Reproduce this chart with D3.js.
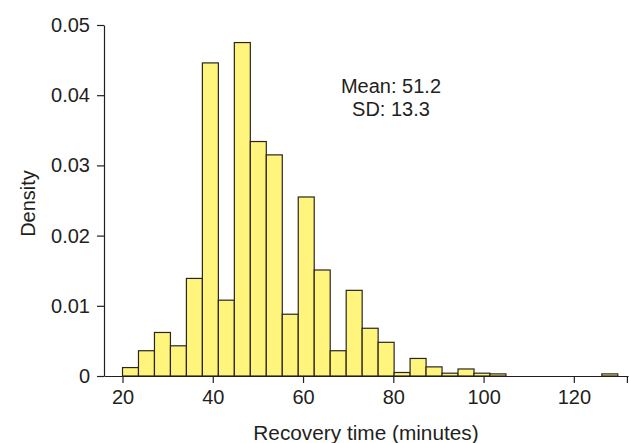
<!DOCTYPE html>
<html>
<head>
<meta charset="utf-8">
<script src="https://cdn.jsdelivr.net/npm/d3@7"></script>
<style>
  body { margin: 0; background: #fff; }
  svg text { font-family: "Liberation Sans", Arial, sans-serif; fill: #231f20; }
  .axis path, .axis line { stroke: #231f20; stroke-width: 1.2; }
</style>
</head>
<body>
<svg id="chart" width="629" height="443"></svg>
<script>
// lower edge of each histogram bin (minutes)
var binStarts = [20.00, 23.54, 27.08, 30.62, 34.16, 37.70, 41.24, 44.78, 48.32, 51.86,
                 55.40, 58.94, 62.48, 66.02, 69.56, 73.10, 76.64, 80.18, 83.72, 87.26,
                 90.80, 94.34, 97.88, 101.42, 104.96, 108.50, 112.04, 115.58, 119.12, 122.66,
                 126.20];
var binEnd = 129.74;
// density of each bin
var density = [0.0012, 0.0036, 0.0062, 0.0043, 0.0139, 0.0446, 0.0108, 0.0475, 0.0334, 0.0315,
               0.0088, 0.0255, 0.0151, 0.0036, 0.0122, 0.0068, 0.0048, 0.0005, 0.0025, 0.0013,
               0.0004, 0.0010, 0.0004, 0.0003, 0, 0, 0, 0, 0, 0,
               0.0003];
var xTicks = [20, 40, 60, 80, 100, 120];
var yTicks = [0, 0.01, 0.02, 0.03, 0.04, 0.05];
var statsLines = ["Mean: 51.2", "SD: 13.3"];
var xTitle = "Recovery time (minutes)";
var yTitle = "Density";

var bins = binStarts.map(function(s, i){
  return { x0: s, x1: (i < binStarts.length - 1) ? binStarts[i+1] : binEnd, y: density[i] };
});

var svg = d3.select("#chart");

var x = d3.scaleLinear().domain([15.9, 132]).range([104, 628]);
var y = d3.scaleLinear().domain([0, 0.05]).range([376, 25]);

// bars
svg.append("g").selectAll("rect")
  .data(bins)
  .enter().append("rect")
    .attr("x", function(d){ return x(d.x0); })
    .attr("y", function(d){ return y(d.y); })
    .attr("width", function(d){ return x(d.x1) - x(d.x0); })
    .attr("height", function(d){ return y(0) - y(d.y); })
    .style("fill", "#fff57c")
    .style("stroke", "#2a2520")
    .style("stroke-width", 1.2);

// x axis
var xAxis = d3.axisBottom(x).tickValues(xTicks).tickSize(7).tickSizeOuter(0).tickPadding(7);
var gx = svg.append("g").attr("class", "axis")
  .attr("transform", "translate(0," + y(0) + ")")
  .call(xAxis);
gx.selectAll("text").style("font-size", "20px");
gx.append("line")
  .attr("x1", x(132) - 0.6).attr("x2", x(132) - 0.6)
  .attr("y1", 0).attr("y2", 7);

// y axis
var yAxis = d3.axisLeft(y).tickValues(yTicks).tickSize(7).tickSizeOuter(0).tickPadding(7)
  .tickFormat(function(d){ return d === 0 ? "0" : d3.format(".2f")(d); });
var gy = svg.append("g").attr("class", "axis")
  .attr("transform", "translate(" + x(15.9) + ",0)")
  .call(yAxis);
gy.selectAll("text").style("font-size", "20px");

// axis titles
svg.append("text")
  .attr("x", (x.range()[0] + x.range()[1]) / 2)
  .attr("y", 440)
  .attr("text-anchor", "middle")
  .style("font-size", "20.8px")
  .text(xTitle);

svg.append("text")
  .attr("transform", "translate(35," + ((y.range()[0] + y.range()[1]) / 2 + 3) + ") rotate(-90)")
  .attr("text-anchor", "middle")
  .style("font-size", "20px")
  .text(yTitle);

// summary stats
svg.append("g").selectAll("text")
  .data(statsLines)
  .enter().append("text")
    .attr("x", 391)
    .attr("y", function(d, i){ return 93 + i * 23; })
    .attr("text-anchor", "middle")
    .style("font-size", "20px")
    .text(function(d){ return d; });
</script>
</body>
</html>
